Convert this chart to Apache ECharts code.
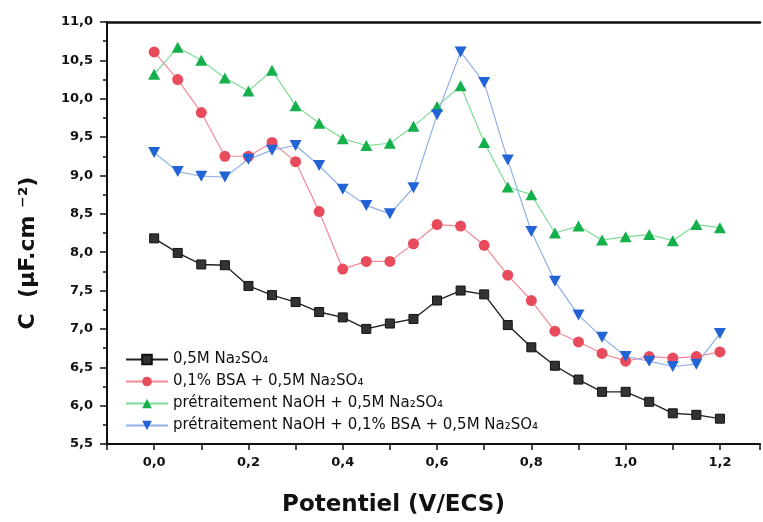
<!DOCTYPE html>
<html>
<head>
<meta charset="utf-8">
<script src="https://cdn.jsdelivr.net/npm/echarts@6/dist/echarts.min.js"></script>
<style>html,body{margin:0;padding:0;background:#fff;overflow:hidden;}#c{width:763px;height:522px;}</style>
</head>
<body>
<div id="c"></div>
<script>
const potentials = [0.00,0.05,0.10,0.15,0.20,0.25,0.30,0.35,0.40,0.45,0.50,0.55,0.60,0.65,0.70,0.75,0.80,0.85,0.90,0.95,1.00,1.05,1.10,1.15,1.20];
const naSO4 = [8.18,7.99,7.84,7.83,7.56,7.44,7.35,7.22,7.15,7.00,7.07,7.13,7.37,7.50,7.45,7.05,6.76,6.52,6.34,6.18,6.18,6.05,5.90,5.88,5.83];
const bsa = [10.61,10.25,9.82,9.25,9.25,9.43,9.18,8.53,7.78,7.88,7.88,8.11,8.36,8.34,8.09,7.70,7.37,6.97,6.83,6.68,6.58,6.64,6.62,6.64,6.70];
const naohNa = [10.32,10.67,10.50,10.27,10.10,10.37,9.91,9.68,9.48,9.39,9.42,9.64,9.90,10.17,9.43,8.85,8.75,8.25,8.34,8.16,8.20,8.23,8.15,8.36,8.32];
const naohBsa = [9.30,9.05,8.99,8.98,9.21,9.33,9.39,9.13,8.82,8.61,8.50,8.84,9.79,10.61,10.21,9.20,8.27,7.62,7.18,6.89,6.64,6.58,6.51,6.54,6.94];
const seriesNames = ['0,5M Na\u2082SO\u2084','0,1% BSA + 0,5M Na\u2082SO\u2084','prétraitement NaOH + 0,5M Na\u2082SO\u2084','prétraitement NaOH + 0,1% BSA + 0,5M Na\u2082SO\u2084'];

const pairs = arr => potentials.map((x,i)=>[x,arr[i]]);
const fmt = v => v.toFixed(1).replace('.', ',');

const chart = echarts.init(document.getElementById('c'));
const tickFont = {fontFamily:'DejaVu Sans', fontWeight:'bold', fontSize:13, color:'#111'};
chart.setOption({
  animation:false,
  backgroundColor:'#fff',
  grid:{left:107, top:22, bottom:74, right:0, containLabel:false},
  legend:{
    orient:'vertical', left:120, top:347, itemWidth:42, itemHeight:12, itemGap:7,
    textStyle:{fontFamily:'DejaVu Sans', fontSize:15, color:'#111'},
    data: seriesNames
  },
  xAxis:[{
    type:'value', min:-0.1, max:1.285, interval:0.1,
    axisLine:{show:true, onZero:false, lineStyle:{color:'#111', width:2}},
    axisTick:{show:true, inside:false, length:6, lineStyle:{color:'#111', width:1.5}},
    splitLine:{show:false},
    axisLabel:{...tickFont, margin:12, formatter: v => { const k=Math.round(v*1000); return (k>=0 && k%200===0 && k<=1200) ? fmt(v) : ''; }},
    name:'Potentiel (V/ECS)', nameLocation:'middle', nameGap:50,
    nameTextStyle:{fontFamily:'DejaVu Sans', fontWeight:'bold', fontSize:23, color:'#111', padding:[0,80,0,0]}
  },{
    type:'value', position:'top', min:-0.1, max:1.285,
    axisLine:{show:true, lineStyle:{color:'#111', width:2.5}},
    axisTick:{show:false}, axisLabel:{show:false}, splitLine:{show:false}
  }],
  yAxis:{
    type:'value', min:5.5, max:11, interval:0.5,
    axisLine:{show:true, onZero:false, lineStyle:{color:'#111', width:2}},
    axisTick:{show:true, inside:false, length:7, lineStyle:{color:'#111', width:1.5}},
    minorTick:{show:true, splitNumber:2, length:4, lineStyle:{color:'#111', width:1.5}},
    splitLine:{show:false},
    axisLabel:{...tickFont, margin:14, formatter: v => fmt(v)},
    name:'C  (µF.cm \u207B\u00B2)', nameLocation:'middle', nameGap:68, nameRotate:90,
    nameTextStyle:{fontFamily:'DejaVu Sans', fontWeight:'bold', fontSize:22, color:'#111', padding:[0,40,0,0]}
  },
  series:[
    {name:seriesNames[0], type:'line', data:pairs(naSO4), symbol:'rect', symbolSize:9,
     itemStyle:{color:'#333', borderColor:'#111', borderWidth:1},
     lineStyle:{color:'#222', width:1.4}},
    {name:seriesNames[1], type:'line', data:pairs(bsa), symbol:'circle', symbolSize:11,
     itemStyle:{color:'#e84c5c'},
     lineStyle:{color:'#f28a95', width:1.2}},
    {name:seriesNames[2], type:'line', data:pairs(naohNa), symbol:'triangle', symbolSize:[12,11],
     itemStyle:{color:'#14b04c'},
     lineStyle:{color:'#7ddc95', width:1.2}},
    {name:seriesNames[3], type:'line', data:pairs(naohBsa), symbol:'triangle', symbolRotate:180, symbolSize:[12,11],
     itemStyle:{color:'#2264d6'},
     lineStyle:{color:'#8fb0e8', width:1.2}}
  ]
});
</script>
</body>
</html>
